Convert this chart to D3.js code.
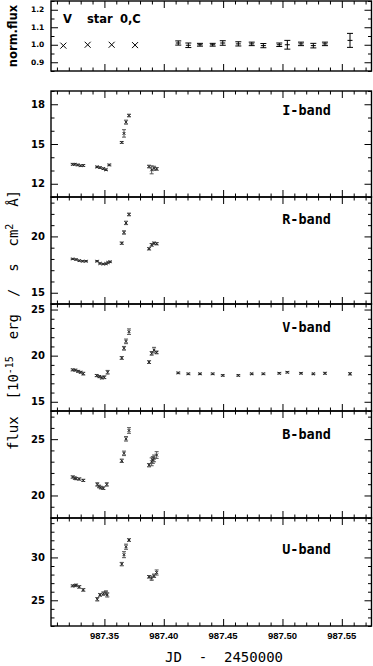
<!DOCTYPE html>
<html><head><meta charset="utf-8">
<script src="https://cdn.jsdelivr.net/npm/d3@7"></script>
<style>body{margin:0;background:#fff}svg{display:block}</style>
</head><body>
<svg id="c" width="373" height="666"></svg>
<script>
// ---------------- DATA ----------------
const xDomain = [987.305, 987.575];
const xMajorTicks = [987.35, 987.40, 987.45, 987.50, 987.55];
const xTickLabels = ["987.35", "987.40", "987.45", "987.50", "987.55"];

// comparison star (norm. flux)
const compCrossJD = [987.3154, 987.3359, 987.3561, 987.3758];
const compCrossVal = [0.995, 1.0, 1.0, 0.998];
const lateJD = [987.4122, 987.4207, 987.4305, 987.4412, 987.4497, 987.4628, 987.4741,
                987.4839, 987.4973, 987.5041, 987.5156, 987.5260, 987.5358, 987.5569];
const compVal = [1.01, 0.997, 1.0, 1.0, 1.01, 1.005, 1.005, 0.995, 1.0, 1.0, 1.005, 0.995, 1.005, 1.025];
const compErr = [0.012, 0.013, 0.008, 0.008, 0.013, 0.012, 0.01, 0.012, 0.01, 0.025, 0.01, 0.013, 0.01, 0.04];

// I band
const iJD  = [987.3233, 987.3250, 987.3275, 987.3300, 987.3322, 987.3438, 987.3463, 987.3491, 987.3513, 987.3541,
              987.3646, 987.3665, 987.3682, 987.3707, 987.3876, 987.3898, 987.3918, 987.3940];
const iVal = [13.47, 13.47, 13.42, 13.36, 13.38, 13.27, 13.22, 13.14, 13.06, 13.42,
              15.12, 15.8, 16.65, 17.15, 13.3, 13.05, 13.17, 13.12];
const iErr = [0.06, 0.06, 0.06, 0.06, 0.07, 0.06, 0.06, 0.06, 0.06, 0.06,
              0.07, 0.28, 0.15, 0.1, 0.1, 0.3, 0.15, 0.1];

// R band
const rJD  = [987.3233, 987.3261, 987.3288, 987.3316, 987.3345, 987.3438, 987.3463, 987.3491, 987.3513, 987.3530, 987.3547,
              987.3646, 987.3665, 987.3682, 987.3707, 987.3876, 987.3898, 987.3918, 987.3940];
const rVal = [18.0, 17.95, 17.85, 17.8, 17.8, 17.8, 17.6, 17.55, 17.58, 17.68, 17.75,
              19.4, 20.35, 21.2, 21.95, 18.9, 19.25, 19.4, 19.35];
const rErr = [0.05, 0.05, 0.05, 0.05, 0.05, 0.05, 0.05, 0.05, 0.05, 0.05, 0.05,
              0.1, 0.15, 0.15, 0.12, 0.1, 0.12, 0.1, 0.1];

// V band
const vJD  = [987.3233, 987.3255, 987.3278, 987.3300, 987.3322, 987.3435, 987.3457, 987.3478, 987.3499, 987.3527,
              987.3646, 987.3665, 987.3682, 987.3707, 987.3876, 987.3898, 987.3918, 987.3940].concat(lateJD);
const vVal = [18.46, 18.43, 18.3, 18.2, 18.05, 17.84, 17.73, 17.6, 17.66, 18.2,
              19.75, 20.8, 21.55, 22.6, 19.3, 20.25, 20.6, 20.35,
              18.13, 18.03, 18.03, 18.03, 17.86, 17.86, 18.03, 18.03, 18.09, 18.2, 18.09, 18.03, 18.09, 18.03];
const vErr = [0.1, 0.1, 0.1, 0.1, 0.15, 0.12, 0.12, 0.12, 0.15, 0.2,
              0.15, 0.2, 0.25, 0.3, 0.15, 0.2, 0.3, 0.15,
              0.08, 0.08, 0.08, 0.08, 0.08, 0.08, 0.08, 0.08, 0.08, 0.08, 0.08, 0.08, 0.1, 0.12];

// B band
const bJD  = [987.3233, 987.3250, 987.3261, 987.3288, 987.3322, 987.3440, 987.3455, 987.3470, 987.3491, 987.3520,
              987.3646, 987.3665, 987.3682, 987.3707, 987.3876, 987.3898, 987.3908, 987.3918, 987.3940];
const bVal = [21.64, 21.55, 21.5, 21.46, 21.34, 20.98, 20.8, 20.7, 20.65, 20.98,
              23.08, 23.74, 25.03, 25.77, 22.69, 22.99, 23.15, 23.29, 23.59];
const bErr = [0.1, 0.1, 0.1, 0.1, 0.1, 0.15, 0.12, 0.12, 0.12, 0.15,
              0.15, 0.2, 0.2, 0.25, 0.15, 0.35, 0.3, 0.3, 0.3];

// U band
const uJD  = [987.3233, 987.3250, 987.3261, 987.3288, 987.3322, 987.3440, 987.3463, 987.3491, 987.3513, 987.3524,
              987.3646, 987.3665, 987.3682, 987.3707, 987.3876, 987.3898, 987.3918, 987.3940];
const uVal = [26.68, 26.7, 26.76, 26.56, 26.21, 25.12, 25.63, 25.78, 25.9, 25.63,
              29.22, 30.32, 31.25, 32.03, 27.74, 27.58, 27.86, 28.24];
const uErr = [0.1, 0.1, 0.12, 0.15, 0.15, 0.2, 0.15, 0.2, 0.2, 0.25,
              0.2, 0.35, 0.3, 0.15, 0.15, 0.25, 0.2, 0.3];

const bandNames = ["I-band", "R-band", "V-band", "B-band", "U-band"];

// ---------------- DRAW ----------------
const svg = d3.select('#c');
const X0 = 51, X1 = 371.5;
const x = d3.scaleLinear().domain(xDomain).range([X0, X1]);
const xMinor = d3.range(Math.ceil(xDomain[0] * 100), Math.floor(xDomain[1] * 100) + 1)
  .map(d => d / 100).filter(t => !xMajorTicks.some(m => Math.abs(m - t) < 1e-6));
const INK = '#222';

function axisLines(g, axisGen) {
  g.call(axisGen);
  g.select('.domain').remove();
  g.selectAll('.tick line').attr('stroke', '#000').attr('stroke-width', 1);
  g.selectAll('.tick text').remove();
}

function panel(cfg) {
  const y = d3.scaleLinear().domain(cfg.domain).range([cfg.bottom, cfg.top]);
  const g = svg.append('g');
  const yMinor = d3.range(Math.ceil(cfg.domain[0] / cfg.minor - 1e-9), Math.floor(cfg.domain[1] / cfg.minor + 1e-9) + 1)
    .map(k => +(k * cfg.minor).toFixed(4))
    .filter(v => !cfg.majors.some(m => Math.abs(m - v) < 1e-6));

  axisLines(g.append('g').attr('transform', `translate(0,${cfg.top})`), d3.axisTop(x).tickValues(xMajorTicks).tickSize(-7));
  axisLines(g.append('g').attr('transform', `translate(0,${cfg.top})`), d3.axisTop(x).tickValues(xMinor).tickSize(-3.5));
  axisLines(g.append('g').attr('transform', `translate(0,${cfg.bottom})`), d3.axisBottom(x).tickValues(xMajorTicks).tickSize(-7));
  axisLines(g.append('g').attr('transform', `translate(0,${cfg.bottom})`), d3.axisBottom(x).tickValues(xMinor).tickSize(-3.5));
  axisLines(g.append('g').attr('transform', `translate(${X0},0)`), d3.axisLeft(y).tickValues(cfg.majors).tickSize(-7));
  axisLines(g.append('g').attr('transform', `translate(${X0},0)`), d3.axisLeft(y).tickValues(yMinor).tickSize(-3.5));
  axisLines(g.append('g').attr('transform', `translate(${X1},0)`), d3.axisRight(y).tickValues(cfg.majors).tickSize(-7));
  axisLines(g.append('g').attr('transform', `translate(${X1},0)`), d3.axisRight(y).tickValues(yMinor).tickSize(-3.5));

  g.append('rect').attr('x', X0).attr('y', cfg.top).attr('width', X1 - X0).attr('height', cfg.bottom - cfg.top)
    .attr('fill', 'none').attr('stroke', '#000').attr('stroke-width', 1.4);

  g.selectAll('text.yl').data(cfg.majors).join('text').attr('class', 'yl')
    .attr('x', 31).attr('y', d => y(d)).attr('dy', '0.36em')
    .attr('font-family', 'DejaVu Sans').attr('font-weight', 'bold').attr('font-size', cfg.labelSize)
    .attr('fill', '#000').text(d => cfg.fmt(d));

  return { g, y };
}

function errPoints(p, jd, val, err, capW, markSize) {
  const pts = jd.map((t, i) => ({ t, v: val[i], e: err[i] }));
  const sel = p.g.append('g').selectAll('g').data(pts).join('g')
    .attr('transform', d => `translate(${x(d.t)},0)`);
  sel.append('line').attr('x1', 0).attr('x2', 0)
    .attr('y1', d => p.y(d.v - d.e)).attr('y2', d => p.y(d.v + d.e)).attr('stroke', '#555').attr('stroke-width', 1);
  [-1, 1].forEach(s => sel.append('line').attr('x1', -capW / 2).attr('x2', capW / 2)
    .attr('y1', d => p.y(d.v + s * d.e)).attr('y2', d => p.y(d.v + s * d.e)).attr('stroke', '#555').attr('stroke-width', 1));
  const m = markSize;
  sel.append('path').attr('d', d => {
    const yy = p.y(d.v);
    return `M${-m},${yy - m}L${m},${yy + m}M${-m},${yy + m}L${m},${yy - m}`;
  }).attr('stroke', INK).attr('stroke-width', 1).attr('fill', 'none');
}

// top panel
const topP = panel({ top: 1, bottom: 71, domain: [0.85, 1.25], majors: [0.9, 1.0, 1.1, 1.2], minor: 0.05,
  labelSize: 7.5, fmt: d3.format('.1f') });
topP.g.append('g').selectAll('path').data(compCrossJD.map((t, i) => ({ t, v: compCrossVal[i] }))).join('path')
  .attr('d', d => { const cx = x(d.t), cy = topP.y(d.v), m = 3; return `M${cx - m},${cy - m}L${cx + m},${cy + m}M${cx - m},${cy + m}L${cx + m},${cy - m}`; })
  .attr('stroke', '#000').attr('stroke-width', 1).attr('fill', 'none');
{
  const pts = lateJD.map((t, i) => ({ t, v: compVal[i], e: compErr[i] }));
  const sel = topP.g.append('g').selectAll('g').data(pts).join('g').attr('transform', d => `translate(${x(d.t)},0)`);
  sel.append('line').attr('y1', d => topP.y(d.v - d.e)).attr('y2', d => topP.y(d.v + d.e)).attr('stroke', '#000');
  [-1, 1].forEach(s => sel.append('line').attr('x1', -3).attr('x2', 3)
    .attr('y1', d => topP.y(d.v + s * d.e)).attr('y2', d => topP.y(d.v + s * d.e)).attr('stroke', '#000'));
  sel.append('line').attr('x1', -2.5).attr('x2', 2.5).attr('y1', d => topP.y(d.v)).attr('y2', d => topP.y(d.v)).attr('stroke', '#000');
}
const topText = topP.g.append('text').attr('y', 22.5).attr('font-family', 'DejaVu Sans').attr('font-weight', 'bold')
  .attr('font-size', 11.5).attr('fill', '#000');
topText.append('tspan').attr('x', 63).text('V');
topText.append('tspan').attr('x', 87).text('star');
topText.append('tspan').attr('x', 120).text('0,C');

// band panels
const bandCfg = [
  { top: 91, bottom: 197, domain: [11, 19], majors: [12, 15, 18], jd: iJD, val: iVal, err: iErr, lab: 115 },
  { top: 197, bottom: 304, domain: [14, 23.5], majors: [15, 20], jd: rJD, val: rVal, err: rErr, lab: 224 },
  { top: 304, bottom: 411, domain: [14, 25.6], majors: [15, 20, 25], jd: vJD, val: vVal, err: vErr, lab: 332 },
  { top: 411, bottom: 518, domain: [18, 27.5], majors: [20, 25], jd: bJD, val: bVal, err: bErr, lab: 439 },
  { top: 518, bottom: 626, domain: [22, 34.6], majors: [25, 30], jd: uJD, val: uVal, err: uErr, lab: 554 }
];
bandCfg.forEach((c, i) => {
  const p = panel({ top: c.top, bottom: c.bottom, domain: c.domain, majors: c.majors, minor: 1,
    labelSize: 10, fmt: d3.format('d') });
  errPoints(p, c.jd, c.val, c.err, 4, 1.4);
  p.g.append('text').attr('x', 331).attr('y', c.lab).attr('text-anchor', 'end')
    .attr('font-family', 'DejaVu Sans Mono').attr('font-weight', 'bold').attr('font-size', 13.5)
    .attr('fill', '#000').text(bandNames[i]);
});

// x tick labels
svg.append('g').selectAll('text').data(xMajorTicks).join('text')
  .attr('x', d => x(d)).attr('y', 638.5).attr('text-anchor', 'middle')
  .attr('font-family', 'Liberation Sans').attr('font-weight', 'bold').attr('font-size', 9.5)
  .attr('fill', '#000').text((d, i) => xTickLabels[i]);

// x axis title
svg.append('text').attr('x', 224).attr('y', 662).attr('text-anchor', 'middle')
  .attr('font-family', 'DejaVu Sans Mono').attr('font-size', 14).attr('fill', '#000')
  .attr('xml:space', 'preserve').text('JD  -  2450000');

// y axis titles
svg.append('text').attr('transform', 'translate(17,36) rotate(-90)').attr('text-anchor', 'middle')
  .attr('font-family', 'DejaVu Sans').attr('font-weight', 'bold').attr('font-size', 11.5)
  .attr('fill', '#000').text('norm.flux');

const yl = svg.append('text').attr('transform', 'translate(18,320) rotate(-90)').attr('text-anchor', 'middle')
  .attr('font-family', 'DejaVu Sans Mono').attr('font-size', 14).attr('fill', '#000')
  .attr('xml:space', 'preserve');
yl.append('tspan').text('flux  [10');
yl.append('tspan').attr('dy', -5).attr('font-size', 10).text('-15');
yl.append('tspan').attr('dy', 5).text('  erg  /  s  cm');
yl.append('tspan').attr('dy', -5).attr('font-size', 10).text('2');
yl.append('tspan').attr('dy', 5).text('  Å]');
</script>
</body></html>
